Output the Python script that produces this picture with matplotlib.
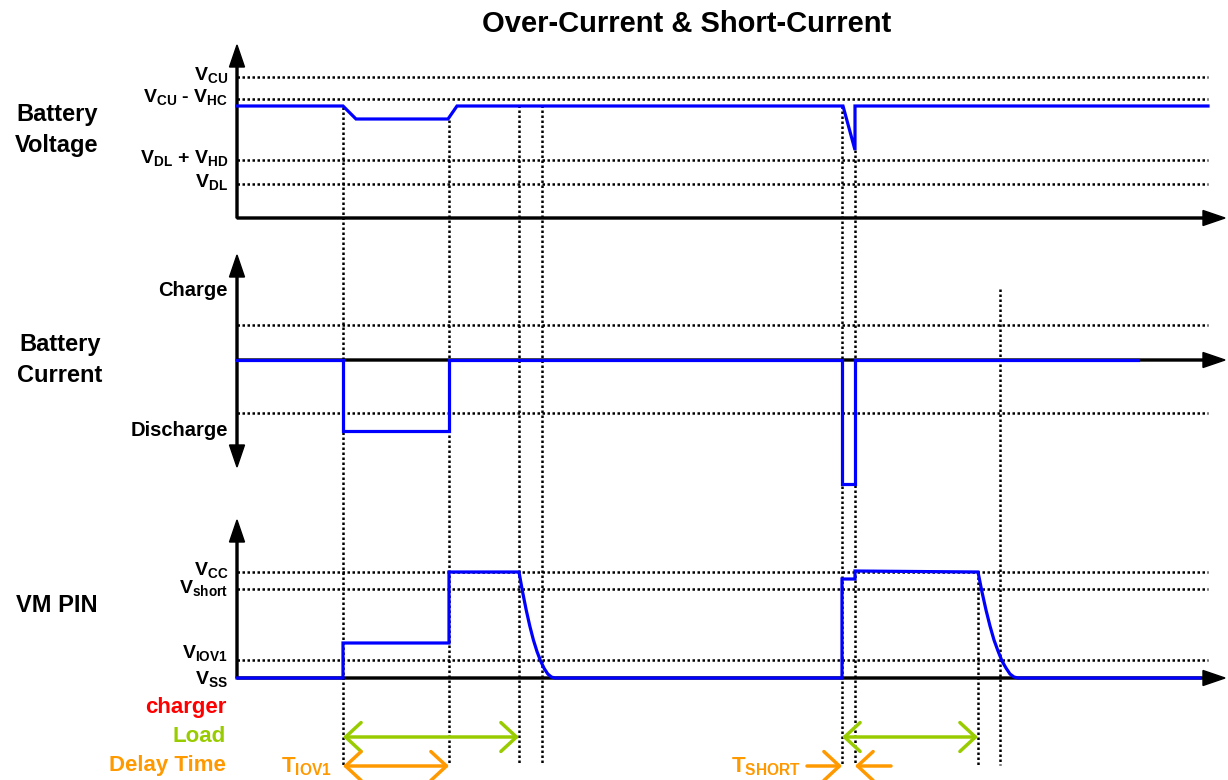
import matplotlib.pyplot as plt

plt.rcParams['font.family'] = ['Liberation Sans', 'DejaVu Sans']
plt.rcParams['font.weight'] = 'bold'
plt.rcParams['mathtext.fontset'] = 'custom'
plt.rcParams['mathtext.rm'] = 'Liberation Sans:bold'
plt.rcParams['mathtext.it'] = 'Liberation Sans:bold'
plt.rcParams['mathtext.bf'] = 'Liberation Sans:bold'

# everything is in picture coordinates (pixels, y down)
x_axis = 237
x_end = 1225
grid_end = 1208

# battery voltage panel
vbat_axis_y = 218
vbat_levels = [77, 99, 160, 184]
vbat_labels = [r'$\mathrm{V_{CU}}$', r'$\mathrm{V_{CU}}$ - $\mathrm{V_{HC}}$',
               r'$\mathrm{V_{DL}}$ + $\mathrm{V_{HD}}$', r'$\mathrm{V_{DL}}$']
vbat_x = [237, 343, 356, 448, 457, 843, 855, 855, 1208]
vbat_y = [106, 106, 119, 119, 106, 106, 150, 106, 106]

# battery current panel
ibat_axis_y = 360
ibat_levels = [325, 413]
ibat_labels = ['Charge', 'Discharge']
ibat_label_y = [290, 430]
ibat_x = [237, 343, 343, 449, 449, 842, 842, 855, 855, 1138]
ibat_y = [360, 360, 431, 431, 360, 360, 484, 484, 360, 360]

# VM pin panel
vm_axis_y = 678
vm_levels = [572, 589, 660]
vm_labels = [r'$\mathrm{V_{CC}}$', r'$\mathrm{V_{short}}$', r'$\mathrm{V_{IOV1}}$', r'$\mathrm{V_{SS}}$']
vm_label_y = [570, 588, 653, 679]
vm_x = [237, 343, 343, 449, 449, 519, 522.6, 526.2, 529.8, 533.4, 537, 540.6, 544.2, 547.8, 551.4, 555,
        842, 842, 855, 855, 978, 982, 986, 990, 994, 998, 1002, 1006, 1010, 1014, 1018, 1200]
vm_y = [678, 678, 643, 643, 572, 572, 592, 610, 626, 640, 651.5, 661, 668.5, 674, 677, 678,
        678, 579, 579, 571, 572, 592, 610, 626, 640, 651, 661, 668, 674, 677, 678, 678]

# vertical timing markers
mark_x = [343, 449, 519, 542, 842, 855, 978, 1000]
mark_top = [107, 120, 105, 105, 106, 150, 572, 289]
mark_bottom = 765

# bottom legend rows
row_names = ['charger', 'Load', 'Delay Time']
row_colors = ['#ff0000', '#99cc00', '#ff9900']
row_y = [708, 737, 766]
load_spans = [(343, 519), (842, 978)]
delay_span = (343, 449)
short_in = (807, 842)
short_out = (891, 855)

blue = '#0000ff'
dot = (0, (1, 1))

fig = plt.figure(figsize=(12.28, 7.80), dpi=100)
ax = fig.add_axes([0, 0, 1, 1])
ax.set_xlim(0, 1228)
ax.set_ylim(780, 0)
ax.axis('off')

ax.text(687, 24, 'Over-Current & Short-Current', ha='center', va='center', fontsize=21)

# dotted horizontal guides
for lv in vbat_levels + ibat_levels + vm_levels:
    ax.plot([x_axis, grid_end], [lv, lv], color='black', lw=1.8, linestyle=dot)

# dotted vertical markers
for mx, top in zip(mark_x, mark_top):
    ax.plot([mx, mx], [top, mark_bottom], color='black', lw=1.8, linestyle=dot)

# axes with arrow heads
arr = dict(width=2, head_width=15, head_length=22, length_includes_head=True, color='black', zorder=3)
ax.arrow(x_axis, vbat_axis_y, 0, 45 - vbat_axis_y, **arr)
ax.arrow(x_axis, vbat_axis_y, x_end - x_axis, 0, **arr)
ax.arrow(x_axis, ibat_axis_y, 0, 255 - ibat_axis_y, **arr)
ax.arrow(x_axis, ibat_axis_y, 0, 467 - ibat_axis_y, **arr)
ax.arrow(x_axis, ibat_axis_y, x_end - x_axis, 0, **arr)
ax.arrow(x_axis, vm_axis_y, 0, 520 - vm_axis_y, **arr)
ax.arrow(x_axis, vm_axis_y, x_end - x_axis, 0, **arr)

# signals
for xs, ys in [(vbat_x, vbat_y), (ibat_x, ibat_y), (vm_x, vm_y)]:
    ax.plot(xs, ys, color=blue, lw=2.3, solid_joinstyle='miter', zorder=4)

# panel titles
ax.text(57, 130, 'Battery\nVoltage', ha='center', va='center', fontsize=17, linespacing=1.4)
ax.text(60, 360, 'Battery\nCurrent', ha='center', va='center', fontsize=17, linespacing=1.4)
ax.text(57, 606, 'VM PIN', ha='center', va='center', fontsize=17)

# level labels
for lv, lab in zip(vbat_levels, vbat_labels):
    ax.text(228, lv - 2, lab, ha='right', va='center', fontsize=14)
for ly, lab in zip(ibat_label_y, ibat_labels):
    ax.text(228, ly, lab, ha='right', va='center', fontsize=14.5)
for ly, lab in zip(vm_label_y, vm_labels):
    ax.text(228, ly, lab, ha='right', va='center', fontsize=14)

# legend rows
for name, col, ry in zip(row_names, row_colors, row_y):
    ax.text(226, ry, name, ha='right', va='center', fontsize=16, color=col)

head = 'head_length=0.7,head_width=0.65'
for a, b in load_spans:
    ax.annotate('', xy=(b, row_y[1]), xytext=(a, row_y[1]),
                arrowprops=dict(arrowstyle='<->,' + head, color=row_colors[1], lw=2.5,
                                mutation_scale=16, shrinkA=0, shrinkB=0))
ax.annotate('', xy=(delay_span[1], row_y[2]), xytext=(delay_span[0], row_y[2]),
            arrowprops=dict(arrowstyle='<->,' + head, color=row_colors[2], lw=2.5,
                            mutation_scale=16, shrinkA=0, shrinkB=0))
for a, b in [short_in, short_out]:
    ax.annotate('', xy=(b, row_y[2]), xytext=(a, row_y[2]),
                arrowprops=dict(arrowstyle='->,' + head, color=row_colors[2], lw=2.5,
                                mutation_scale=16, shrinkA=0, shrinkB=0))
ax.text(332, row_y[2] + 1, r'$\mathrm{T_{IOV1}}$', ha='right', va='center', fontsize=16, color=row_colors[2])
ax.text(801, row_y[2] + 1, r'$\mathrm{T_{SHORT}}$', ha='right', va='center', fontsize=16, color=row_colors[2])

fig.savefig('out.png', dpi=100)
